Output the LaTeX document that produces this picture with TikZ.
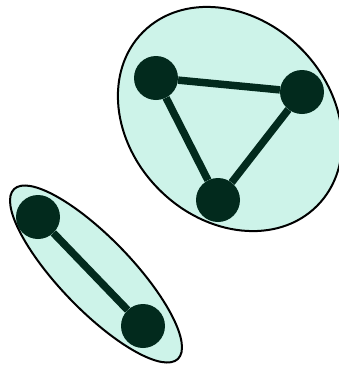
\documentclass[tikz,border=0pt]{standalone}
\usepackage{tikz}
\usetikzlibrary{positioning}
\definecolor{mint}{RGB}{205,243,233}
\definecolor{pine}{RGB}{2,42,29}

\begin{document}
\begin{tikzpicture}[x=1pt,y=-1pt,
  vertex/.style={circle,fill=pine,minimum size=44pt,inner sep=0pt},
  link/.style={pine,line width=7.5pt},
  blob/.style={fill=mint,draw=black,line width=2pt}]
  \useasboundingbox (0,0) rectangle (339,365);
  % the two components
  \draw[blob,rotate around={-45:(230,119)}] (230,119) ellipse (123 and 100);
  \draw[blob,rotate around={-46:(96,274)}] (96,274) ellipse (118 and 36);
  % triangle
  \node[vertex] (a) at (156,78) {};
  \node[vertex] (b) at (302,92) {};
  \node[vertex] (c) at (218,200) {};
  \draw[link] (a) -- (b);
  \draw[link] (b) -- (c);
  \draw[link] (c) -- (a);
  % pair
  \node[vertex] (d) at (38,217) {};
  \node[vertex] (e) at (143,326) {};
  \draw[link] (d) -- (e);
\end{tikzpicture}
\end{document}
